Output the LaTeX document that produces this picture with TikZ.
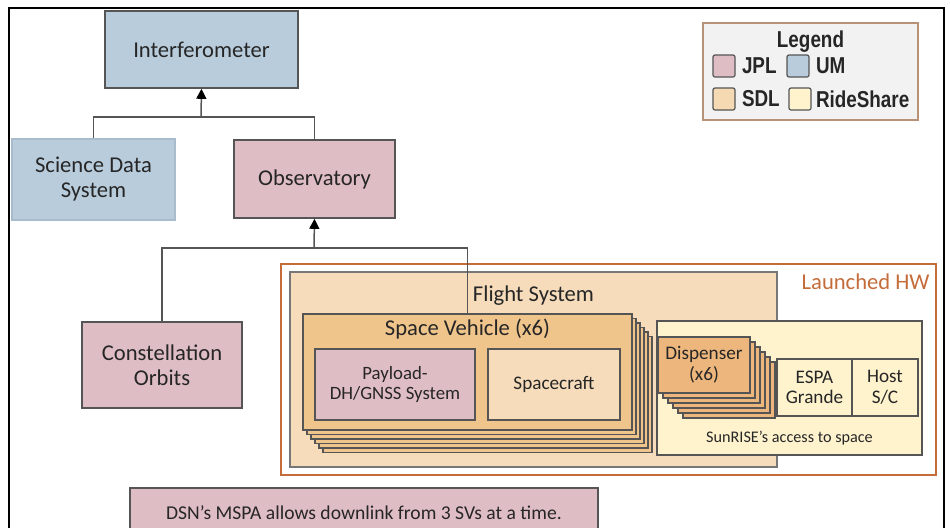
\documentclass[tikz,border=0pt]{standalone}
\usepackage{fontspec}
\setmainfont{Carlito}
\newfontfamily\legendfont[FakeStretch=0.82]{Liberation Sans}
\usepackage{xcolor}
\usetikzlibrary{arrows.meta,positioning,calc}

\definecolor{umblue}{RGB}{185,204,219}
\definecolor{sdsedge}{RGB}{168,188,206}
\definecolor{jplpink}{RGB}{223,189,196}
\definecolor{sdltan}{RGB}{246,220,186}
\definecolor{svorange}{RGB}{240,197,140}
\definecolor{disporange}{RGB}{236,182,124}
\definecolor{rideyellow}{RGB}{255,243,206}
\definecolor{edgegray}{RGB}{85,85,85}
\definecolor{hwbrown}{RGB}{196,108,58}
\definecolor{legbg}{RGB}{242,242,242}
\definecolor{legedge}{RGB}{184,146,118}
\definecolor{txt}{RGB}{38,38,38}

\begin{document}
\begin{tikzpicture}[
  x=0.5pt,y=-0.5pt,
  font=\fontsize{11.3}{12.5}\selectfont,
  blk/.style={draw=edgegray,line width=0.8pt,inner sep=0pt,align=center,text=txt},
  small/.style={font=\fontsize{9.6}{10.3}\selectfont},
  link/.style={draw=edgegray,line width=0.75pt},
  arr/.style={link,-{Triangle[length=5pt,width=5pt,color=black]}},
  swatch/.style={draw=edgegray,line width=0.6pt,rounded corners=1pt,minimum size=11pt,inner sep=0pt},
  legtxt/.style={inner sep=0pt,font=\legendfont\bfseries\fontsize{11.5}{12}\selectfont,text=txt},
]
\useasboundingbox (0,0) rectangle (950,527);
\clip (0,0) rectangle (950,527);

% outer frame (cut off at the bottom)
\draw[line width=1pt] (9,540) -- (9,8) -- (944,8) -- (944,540);

% top of the tree
\node[blk,fill=umblue,minimum width=96.5pt,minimum height=38.5pt] (intf) at (201.5,49.5) {Interferometer};
\node[blk,draw=sdsedge,fill=umblue,minimum width=81.5pt,minimum height=40.5pt] (sds) at (93.5,179.5)
  {Science Data\\System};
\node[blk,fill=jplpink,minimum width=80.5pt,minimum height=39pt] (obs) at (314.5,179) {Observatory};
\node[blk,fill=jplpink,minimum width=80pt,minimum height=43pt] (orb) at (162,365) {Constellation\\Orbits};

% launched hardware
\node[draw=hwbrown,line width=1pt,inner sep=0pt,minimum width=327.5pt,minimum height=105.5pt] (lhw)
  at (608.5,369.5) {};
\node[anchor=north east,text=hwbrown,inner sep=0pt] (lhwtitle)
  at ($(lhw.north east)+(-7,10)$) {Launched HW};
\node[blk,draw=edgegray!80,fill=sdltan,minimum width=243.5pt,minimum height=97.5pt] (fs) at (533.5,369.5) {};
\node[text=txt,inner sep=0pt] (fstitle) at ($(fs.north)+(0,24)$) {Flight System};
\node[blk,fill=rideyellow,minimum width=132.5pt,minimum height=67pt] (ride) at (789.5,388) {};
\node[text=txt,inner sep=0pt,font=\fontsize{8.1}{9}\selectfont] (ridetitle)
  at ($(ride.south)+(0,-18)$) {SunRISE’s access to space};

% six space vehicles
\foreach \k in {5,...,1}
  \draw[blk,fill=svorange] (303+4*\k,314+4.5*\k) rectangle (632+4*\k,430+4.5*\k);
\node[blk,fill=svorange,minimum width=164.5pt,minimum height=58pt] (sv) at (467.5,372) {};
\node[text=txt,inner sep=0pt] (svtitle) at ($(sv.north)+(0,16)$) {Space Vehicle (x6)};
\node[blk,font=\fontsize{9.4}{10.2}\selectfont,fill=jplpink,minimum width=80pt,minimum height=35.5pt] (pld)
  at (395,384.5) {Payload-\\DH/GNSS System};
\node[blk,small,fill=sdltan,minimum width=66pt,minimum height=35.5pt] (sc) at (554,384.5) {Spacecraft};

% six dispensers
\foreach \k in {5,...,1}
  \draw[blk,fill=disporange] (658+5*\k,337+5*\k) rectangle (750+5*\k,393+5*\k);
\node[blk,small,fill=disporange,minimum width=46pt,minimum height=28pt] (disp) at (704,365) {Dispenser\\(x6)};
\node[blk,small,fill=rideyellow,minimum width=37.5pt,minimum height=28.5pt] (espa) at (814.5,387.5)
  {ESPA\\Grande};
\node[blk,small,fill=rideyellow,minimum width=33pt,minimum height=28.5pt] (host) at (885,387.5) {Host\\S/C};

% legend
\node[draw=legedge,line width=0.8pt,fill=legbg,inner sep=0pt,minimum width=107.5pt,minimum height=48.5pt] (leg)
  at (810.5,71.5) {};
\node[legtxt] (legtitle) at ($(leg.north)+(0,19)$) {Legend};
\node[swatch,fill=jplpink] (sjpl) at (724,66) {};
\node[legtxt,right=3pt of sjpl] (tjpl) {JPL};
\node[swatch,fill=umblue] (sum) at (798,66) {};
\node[legtxt,right=3pt of sum] (tum) {UM};
\node[swatch,fill=sdltan!85!svorange] (ssdl) at (724,99) {};
\node[legtxt,right=3pt of ssdl] (tsdl) {SDL};
\node[swatch,fill=rideyellow] (sride) at (800,99) {};
\node[legtxt,right=2pt of sride] (tride) {RideShare};

% note at the bottom
\node[blk,fill=jplpink,font=\fontsize{9.8}{11}\selectfont,minimum width=234pt,minimum height=25pt] (dsn)
  at (364,513) {DSN’s MSPA allows downlink from 3 SVs at a time.};

% connectors
\coordinate (j1) at (201,117);
\coordinate (j2) at (314,248);
\draw[link] (sds.north) |- (j1) -| (obs.north);
\draw[arr] (j1) -- (intf.south);
\draw[link] (orb.north) |- (j2) -| (sv.north);
\draw[arr] (j2) -- (obs.south);
\end{tikzpicture}
\end{document}
